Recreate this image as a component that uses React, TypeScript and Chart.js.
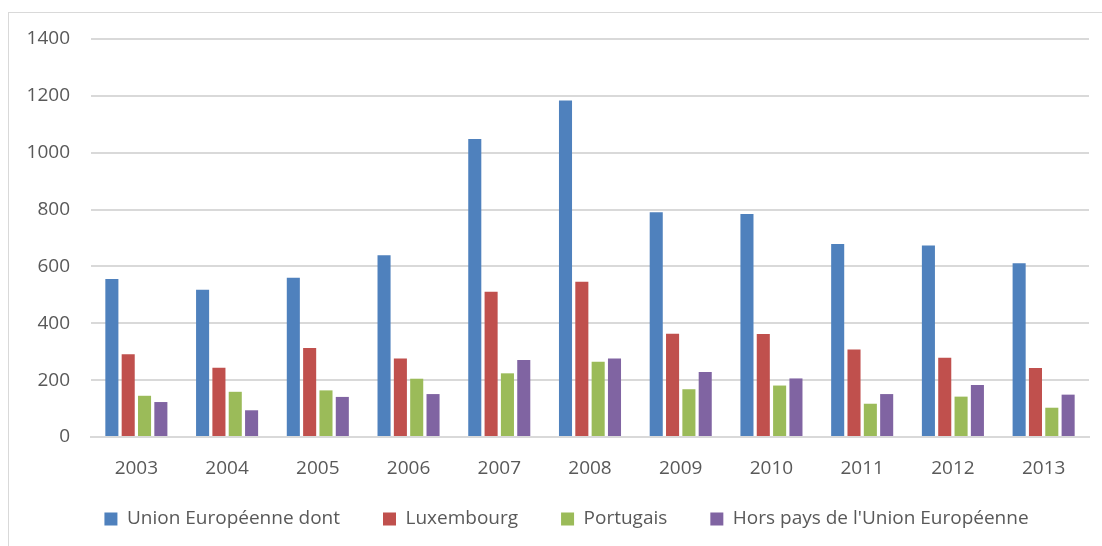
import React, { useEffect, useRef } from "react";
import { Chart, registerables } from "chart.js";

Chart.register(...registerables);

const years = ["2003", "2004", "2005", "2006", "2007", "2008", "2009", "2010", "2011", "2012", "2013"];
const unionEuropeenne = [556, 518, 560, 639, 1048, 1184, 791, 784, 679, 674, 611];
const luxembourg = [291, 244, 313, 276, 511, 546, 363, 362, 308, 279, 243];
const portugais = [145, 159, 164, 205, 224, 265, 168, 181, 117, 142, 103];
const horsUnion = [123, 94, 141, 151, 271, 276, 229, 206, 151, 183, 149];
const seriesNames = ["Union Européenne dont", "Luxembourg", "Portugais", "Hors pays de l'Union Européenne"];
const seriesColors = ["#4f81bd", "#c0504d", "#9bbb59", "#8064a2"];
const yTicks = { min: 0, max: 1400, step: 200 };

const FONT = "'Open Sans', Lato, sans-serif";
const FONT_SIZE = 19;
const TEXT = "#595959";
const GRID = "#d9d9d9";
const LEGEND_PAD = 43;

const legendPlacer = {
  id: "legendPlacer",
  afterLayout(chart: any) {
    const lg = chart.legend;
    if (!lg) return;
    const itemHeight = Math.max(FONT_SIZE, 13);
    lg.left = 43;
    lg.right = 1090;
    lg.width = lg.right - lg.left;
    lg.top = 519 - LEGEND_PAD - itemHeight / 2;
    lg.bottom = 546;
    lg.height = lg.bottom - lg.top;
  },
};

export default function App() {
  const ref = useRef<HTMLCanvasElement | null>(null);

  useEffect(() => {
    if (!ref.current) return;
    const values = [unionEuropeenne, luxembourg, portugais, horsUnion];
    const chart = new Chart(ref.current, {
      type: "bar",
      data: {
        labels: years,
        datasets: values.map((v, i) => ({
          label: seriesNames[i],
          data: v,
          backgroundColor: seriesColors[i],
          borderWidth: 0,
          categoryPercentage: 0.72,
          barPercentage: 0.8,
        })),
      },
      options: {
        animation: false,
        responsive: false,
        devicePixelRatio: 1,
        layout: { padding: { top: 39, right: 13, bottom: 0, left: 0 } },
        plugins: {
          tooltip: { enabled: false },
          legend: {
            position: "bottom",
            maxHeight: 59,
            labels: {
              boxWidth: 13,
              boxHeight: 13,
              padding: LEGEND_PAD,
              color: TEXT,
              font: { family: FONT, size: FONT_SIZE },
            },
          },
        },
        scales: {
          x: {
            grid: { display: false, drawTicks: false },
            border: { display: true, color: GRID, width: 2 },
            ticks: { color: TEXT, font: { family: FONT, size: FONT_SIZE }, padding: 20 },
            afterFit: (scale: any) => {
              scale.height = 50;
            },
          },
          y: {
            min: yTicks.min,
            max: yTicks.max,
            grid: { color: GRID, lineWidth: 2, drawTicks: false },
            border: { display: false },
            ticks: {
              stepSize: yTicks.step,
              color: TEXT,
              font: { family: FONT, size: FONT_SIZE },
              padding: 21,
              callback: (v: any) => String(v),
            },
            afterFit: (scale: any) => {
              scale.width = 91;
            },
          },
        },
      },
      plugins: [legendPlacer],
    });
    return () => chart.destroy();
  }, []);

  return (
    <div style={{ position: "fixed", left: 0, top: 0, width: 1102, height: 546, background: "#fff", overflow: "hidden" }}>
      <div
        style={{
          position: "absolute",
          left: 8,
          top: 12,
          width: 1102,
          height: 546,
          border: `1px solid ${GRID}`,
          boxSizing: "border-box",
        }}
      />
      <canvas ref={ref} width={1102} height={546} style={{ position: "absolute", left: 0, top: 0, width: 1102, height: 546 }} />
    </div>
  );
}
